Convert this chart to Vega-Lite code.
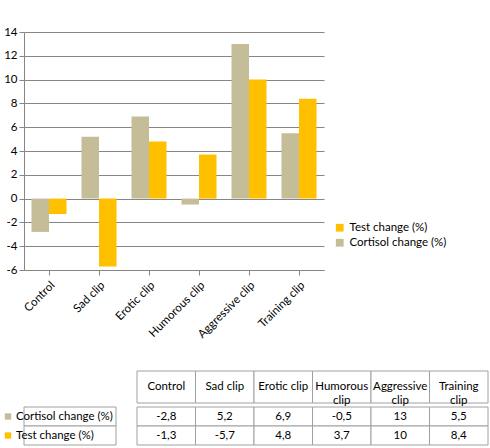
{
  "$schema": "https://vega.github.io/schema/vega-lite/v6.json",
  "padding": {"left": 3, "top": 26, "right": 2, "bottom": 0},
  "config": {
    "font": "Lato",
    "view": {"stroke": null},
    "locale": {
      "number": {"decimal": ",", "thousands": ".", "grouping": [3], "currency": ["", " €"], "minus": "-"}
    },
    "axis": {"labelFont": "Lato", "labelFontSize": 11.5, "labelColor": "#000"},
    "legend": {"labelFont": "Lato", "labelFontSize": 11.5, "labelColor": "#000"}
  },
  "datasets": {
    "bars": [
      {"clip": "Control", "series": "Cortisol change (%)", "value": -2.8},
      {"clip": "Control", "series": "Test change (%)", "value": -1.3},
      {"clip": "Sad clip", "series": "Cortisol change (%)", "value": 5.2},
      {"clip": "Sad clip", "series": "Test change (%)", "value": -5.7},
      {"clip": "Erotic clip", "series": "Cortisol change (%)", "value": 6.9},
      {"clip": "Erotic clip", "series": "Test change (%)", "value": 4.8},
      {"clip": "Humorous clip", "series": "Cortisol change (%)", "value": -0.5},
      {"clip": "Humorous clip", "series": "Test change (%)", "value": 3.7},
      {"clip": "Aggressive clip", "series": "Cortisol change (%)", "value": 13},
      {"clip": "Aggressive clip", "series": "Test change (%)", "value": 10},
      {"clip": "Training clip", "series": "Cortisol change (%)", "value": 5.5},
      {"clip": "Training clip", "series": "Test change (%)", "value": 8.4}
    ],
    "clips": [
      {"clip": "Control", "head": "Control"},
      {"clip": "Sad clip", "head": "Sad clip"},
      {"clip": "Erotic clip", "head": "Erotic clip"},
      {"clip": "Humorous clip", "head": "Humorous\nclip"},
      {"clip": "Aggressive clip", "head": "Aggressive\nclip"},
      {"clip": "Training clip", "head": "Training\nclip"}
    ],
    "series": [
      {"series": "Cortisol change (%)"},
      {"series": "Test change (%)"}
    ]
  },
  "resolve": {"scale": {"color": "independent"}, "legend": {"color": "independent"}},
  "spacing": 30,
  "vconcat": [
    {
      "width": 300,
      "height": 238,
      "data": {"name": "bars"},
      "mark": {"type": "bar"},
      "encoding": {
        "x": {
          "field": "clip",
          "type": "nominal",
          "sort": null,
          "scale": {"paddingInner": 0.3, "paddingOuter": 0.15},
          "axis": {
            "title": null,
            "labelAngle": -45,
            "domainColor": "#868686",
            "tickColor": "#868686",
            "labelPadding": 4
          }
        },
        "xOffset": {
          "field": "series",
          "scale": {"domain": ["Cortisol change (%)", "Test change (%)"]}
        },
        "y": {
          "field": "value",
          "type": "quantitative",
          "scale": {"domain": [-6, 14], "nice": false},
          "axis": {
            "title": null,
            "values": [-6, -4, -2, 0, 2, 4, 6, 8, 10, 12, 14],
            "gridColor": "#868686",
            "domainColor": "#868686",
            "tickColor": "#868686"
          }
        },
        "color": {
          "field": "series",
          "type": "nominal",
          "scale": {
            "domain": ["Test change (%)", "Cortisol change (%)"],
            "range": ["#ffc000", "#c4bd97"]
          },
          "legend": {
            "title": null,
            "orient": "none",
            "legendX": 310,
            "legendY": 190,
            "symbolType": "square",
            "symbolSize": 60
          }
        }
      }
    },
    {
      "spacing": 0,
      "vconcat": [
        {
          "spacing": 0,
          "hconcat": [
            {
              "width": 112,
              "height": 32,
              "data": {"name": "series"},
              "mark": {"type": "rect", "opacity": 0}
            },
            {
              "width": 351,
              "height": 32,
              "data": {"name": "clips"},
              "encoding": {
                "x": {
                  "field": "clip",
                  "type": "nominal",
                  "sort": null,
                  "scale": {"paddingInner": 0, "paddingOuter": 0},
                  "axis": null
                }
              },
              "layer": [
                {"mark": {"type": "rect", "fill": "white", "stroke": "#a0a0a0", "strokeWidth": 1}},
                {
                  "mark": {"type": "text", "lineBreak": "\n", "fontSize": 11.5, "color": "#000"},
                  "encoding": {"text": {"field": "head"}}
                }
              ]
            }
          ]
        },
        {
          "spacing": 0,
          "hconcat": [
            {
              "width": 112,
              "height": 38,
              "data": {"name": "series"},
              "encoding": {
                "y": {
                  "field": "series",
                  "type": "nominal",
                  "sort": null,
                  "scale": {"paddingInner": 0, "paddingOuter": 0},
                  "axis": null
                }
              },
              "layer": [
                {"mark": {"type": "rect", "fill": "white", "stroke": "#a0a0a0", "strokeWidth": 1, "xOffset": -20}},
                {
                  "mark": {"type": "point", "shape": "square", "filled": true, "size": 40, "opacity": 1},
                  "encoding": {
                    "x": {"value": -16},
                    "color": {
                      "field": "series",
                      "type": "nominal",
                      "scale": {
                        "domain": ["Test change (%)", "Cortisol change (%)"],
                        "range": ["#ffc000", "#c4bd97"]
                      },
                      "legend": null
                    }
                  }
                },
                {
                  "mark": {"type": "text", "align": "left", "fontSize": 11.5, "color": "#000"},
                  "encoding": {"x": {"value": -8}, "text": {"field": "series"}}
                }
              ]
            },
            {
              "width": 351,
              "height": 38,
              "data": {"name": "bars"},
              "encoding": {
                "x": {
                  "field": "clip",
                  "type": "nominal",
                  "sort": null,
                  "scale": {"paddingInner": 0, "paddingOuter": 0},
                  "axis": null
                },
                "y": {
                  "field": "series",
                  "type": "nominal",
                  "sort": ["Cortisol change (%)", "Test change (%)"],
                  "scale": {"paddingInner": 0, "paddingOuter": 0},
                  "axis": null
                }
              },
              "layer": [
                {"mark": {"type": "rect", "fill": "white", "stroke": "#a0a0a0", "strokeWidth": 1}},
                {
                  "mark": {"type": "text", "fontSize": 11.5, "color": "#000"},
                  "encoding": {"text": {"field": "value", "type": "quantitative", "format": ".2~r"}}
                }
              ]
            }
          ]
        }
      ]
    }
  ]
}
